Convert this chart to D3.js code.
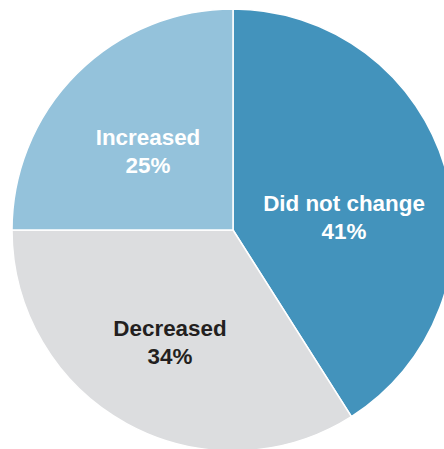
<!DOCTYPE html>
<html><head><meta charset="utf-8">
<script src="https://cdn.jsdelivr.net/npm/d3@7"></script>
<style>html,body{margin:0;padding:0;background:#fff;overflow:hidden}</style>
</head><body>
<svg id="chart" width="444" height="449"></svg>
<script>
const categories = ["Did not change", "Decreased", "Increased"];
const values = [41, 34, 25];
const colors = ["#4393bc", "#dcdddf", "#94c2db"];
const textColors = ["#ffffff", "#231f20", "#ffffff"];
// label anchor points (layout only)
const labelPos = [[344, 211], [170, 336], [148, 145]];

const svg = d3.select("#chart");
const cx = 233, cy = 230, r = 221;
const data = categories.map((c, i) => ({cat: c, value: values[i], i}));
const pie = d3.pie().sort(null).value(d => d.value);
const arc = d3.arc().innerRadius(0).outerRadius(r);
const g = svg.append("g").attr("transform", `translate(${cx},${cy})`);
g.selectAll("path").data(pie(data)).join("path")
  .attr("d", arc)
  .attr("fill", d => colors[d.data.i])
  .attr("stroke", "#fff").attr("stroke-width", 1.5);

const lab = svg.selectAll("text.lab").data(data).join("text")
  .attr("class", "lab")
  .attr("text-anchor", "middle")
  .attr("font-family", "'Liberation Sans', Arial, sans-serif")
  .attr("font-weight", "bold")
  .attr("font-size", 22.4)
  .attr("fill", d => textColors[d.i]);
lab.append("tspan").attr("x", d => labelPos[d.i][0]).attr("y", d => labelPos[d.i][1]).text(d => d.cat);
lab.append("tspan").attr("x", d => labelPos[d.i][0]).attr("y", d => labelPos[d.i][1] + 28).text(d => d.value + "%");
</script>
</body></html>
